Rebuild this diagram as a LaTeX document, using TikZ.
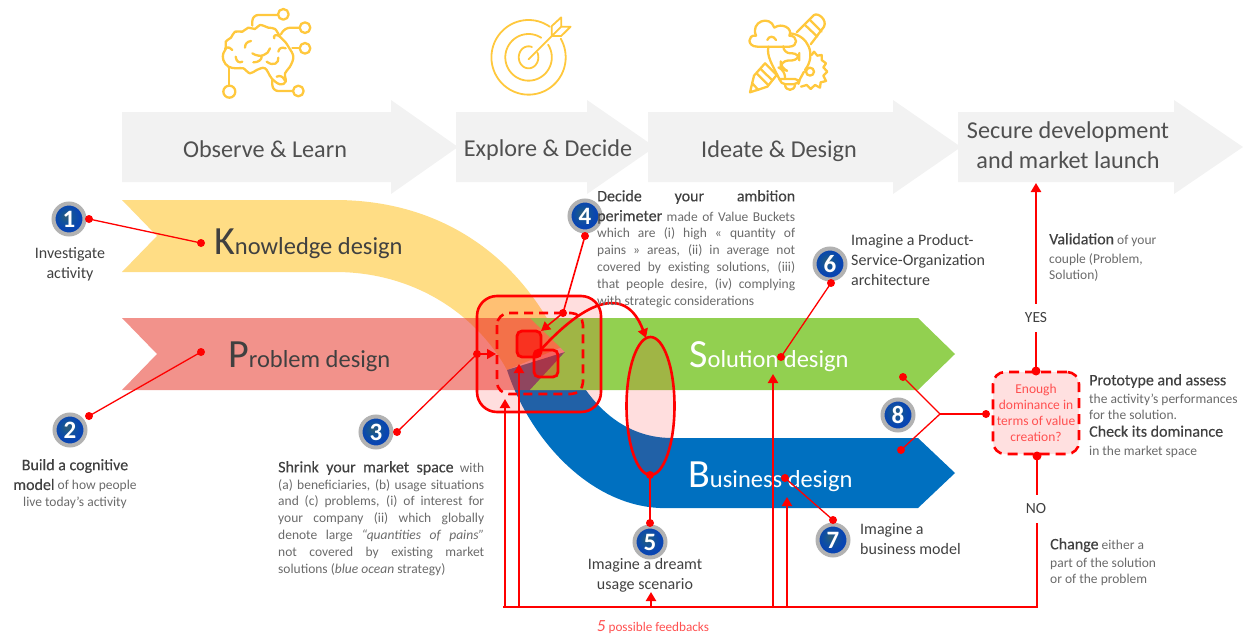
\documentclass[tikz,border=0pt]{standalone}
\usepackage{fontspec}
\setmainfont{Carlito}
\newfontfamily\semib[FakeBold=0.3]{Carlito}
\usetikzlibrary{arrows.meta,calc}
\definecolor{gband}{HTML}{F2F2F2}
\definecolor{ytxt}{HTML}{FFDD85}
\definecolor{rband}{HTML}{E8392C}
\definecolor{sgreen}{HTML}{92D050}
\definecolor{bblue}{HTML}{0070C0}
\definecolor{dtxt}{HTML}{404040}
\definecolor{gtxt}{HTML}{6A6A6A}
\definecolor{hdtxt}{HTML}{505050}
\definecolor{boxred}{HTML}{FF5050}
\definecolor{icony}{HTML}{FFC83D}
\pgfdeclareradialshading{bball}{\pgfpoint{-5bp}{5bp}}{color(0bp)=(rgb:red,0.40;green,0.78;blue,0.98); color(9bp)=(rgb:red,0.10;green,0.45;blue,0.82); color(20bp)=(rgb:red,0.03;green,0.24;blue,0.62); color(50bp)=(rgb:red,0.03;green,0.24;blue,0.62)}
\newcommand{\hd}[1]{{\semib\color{dtxt}\fontsize{16}{17}\selectfont #1}}
\newcommand{\gy}[1]{{\color{gtxt}\fontsize{13.5}{16.8}\selectfont #1}}
\newcommand{\jl}[2]{\makebox[#1][s]{#2}}
\newcommand{\bandlab}[2]{{\fontsize{40}{40}\selectfont #1}{\fontsize{24.5}{26}\selectfont #2}}
\tikzset{
  grayarrow/.style={fill=gband,draw=none},
  headtxt/.style={inner sep=0,text=hdtxt,font=\fontsize{24.2}{29.5}\selectfont,align=center},
  dot/.style={circle,fill=red,inner sep=0,minimum size=8},
  thinl/.style={draw=red,line width=1.3},
  thick1/.style={draw=red,line width=2.6},
  arr/.style={-{Triangle[length=9,width=10]}},
  overlay/.style={fill=red,fill opacity=0.13},
  badge/.style={circle,inner sep=0,minimum size=31,shading=bball,draw=gray!60,line width=4,text=white,font=\bfseries\fontsize{25}{25}\selectfont},
  block/.style={inner sep=0,anchor=north west,align=left,font=\fontsize{13.5}{16.8}\selectfont},
  cblock/.style={inner sep=0,align=center,font=\fontsize{13.5}{16.8}\selectfont},
  plainhd/.style={text=dtxt,font=\fontsize{16}{19.6}\selectfont},
  bandtxt/.style={inner sep=0,anchor=base west},
  ic/.style={draw=icony,line width=2.3,line cap=round,line join=round},
}
\begin{document}
\begin{tikzpicture}[x=1pt,y=-1pt]
\useasboundingbox (0,0) rectangle (1244,637);
% gray arrows
\fill[grayarrow] (122,112)--(391,112)--(391,100)--(458,147)--(391,194)--(391,182)--(122,182)--cycle;
\fill[grayarrow] (456,112)--(587,112)--(587,100)--(655,147)--(587,194)--(587,182)--(456,182)--cycle;
\fill[grayarrow] (648,112)--(893,112)--(893,100)--(961,147)--(893,194)--(893,182)--(648,182)--cycle;
\fill[grayarrow] (958,112)--(1174,112)--(1174,100)--(1243,147)--(1174,194)--(1174,182)--(958,182)--cycle;
\node[headtxt] (h1) at (265,149) {Observe \& Learn};
\node[headtxt] (h2) at (548,150) {Explore \& Decide};
\node[headtxt] (h3) at (779,151) {Ideate \& Design};
\node[headtxt] (h4) at (1068,145) {Secure development\\and market launch};
% bands
\fill[ytxt] (122,200)--(335,200) .. controls (440,200) and (520,255) .. (562,347) -- (507,370) .. controls (480,320) and (420,272) .. (335,272) -- (122,272)--(157,236)--cycle;
\fill[bblue] (507,370)--(565,352) .. controls (585,400) and (620,438) .. (672,438) -- (918,438)--(955,473)--(918,508)--(660,508) .. controls (590,505) and (530,440) .. (507,370) -- cycle;
\fill[rband,fill opacity=.55] (122,318)--(570,318)--(570,390)--(122,390)--(157,354)--cycle;
\fill[sgreen] (530,318)--(918,318)--(955,354)--(918,390)--(530,390)--(565,352)--cycle;
\node[bandtxt,text=dtxt] (kd) at (214,254) {\bandlab{K}{nowledge design}};
\node[bandtxt,text=dtxt] (pd) at (228,367) {\bandlab{P}{roblem design}};
\node[bandtxt,text=white] (sd) at (689,367) {\bandlab{S}{olution design}};
\node[bandtxt,text=white] (bd) at (688,487) {\bandlab{B}{usiness design}};
% overlays
\filldraw[overlay,draw=red,draw opacity=1,line width=2.6,rounded corners=20] (477,296) rectangle (601,412);
\draw[thick1,dashed,dash pattern=on 9pt off 6pt,rounded corners=12] (497,313) rectangle (583,394);
\filldraw[fill=red,fill opacity=.55,draw=red,draw opacity=1,line width=2.8,rounded corners=5] (517,331) rectangle (541,357);
\filldraw[fill=red,fill opacity=.22,draw=red,draw opacity=1,line width=2.8,rounded corners=5] (534,350) rectangle (558,377);
\filldraw[overlay,draw=red,draw opacity=1,line width=2.6] (650.5,406) ellipse [x radius=24,y radius=69];
% decision box
\node[draw=red,fill=red!12,line width=2.6,dashed,dash pattern=on 10pt off 6pt,rounded corners=12,minimum width=86,minimum height=82,inner sep=0,text=boxred,align=center,font=\fontsize{13.5}{16.2}\selectfont] (box) at (1036,413) {Enough\\dominance in\\terms of value\\creation?};
% badges
\node[badge] (b1) at (69,219) {1};
\node[badge] (b2) at (70,430) {2};
\node[badge] (b3) at (376,432) {3};
\node[badge] (b4) at (585,216) {4};
\node[badge] (b5) at (650,542) {5};
\node[badge] (b6) at (830,264) {6};
\node[badge] (b7) at (833,540) {7};
\node[badge] (b8) at (898,415) {8};
% dots
\node[dot] (d1a) at (89,219) {}; \node[dot] (d1b) at (201,243) {};
\node[dot] (d2a) at (89,416) {}; \node[dot] (d2b) at (201,352) {};
\node[dot] (d3a) at (397,432) {}; \node[dot] (d3b) at (477,354) {};
\node[dot] (d4a) at (585,236) {}; \node[dot] (d4b) at (563,313) {};
\node[dot] (dc) at (537,354) {};
\node[dot] (d5a) at (650,475) {}; \node[dot] (d5b) at (650,523) {};
\node[dot] (d6a) at (831,283) {}; \node[dot] (d6b) at (781,357) {};
\node[dot] (d7a) at (833,520) {}; \node[dot] (d7b) at (785,478) {};
\node[dot] (d8a) at (903,377) {}; \node[dot] (d8b) at (901,450) {}; \node[dot] (d8c) at (986,414) {};
\node[dot,minimum size=9] (dt) at (1036,371) {}; \node[dot,minimum size=9] (db) at (1037,456) {};
\coordinate (j8) at (940,414);
\coordinate (ebl) at (503,607); \coordinate (ebr) at (1037,607);
\coordinate (t1) at (505,399); \coordinate (t2) at (519,364); \coordinate (t3) at (651,592); \coordinate (t4) at (773,374); \coordinate (t5) at (787,497);
\coordinate (s1) at (505,607); \coordinate (s2) at (519,607); \coordinate (s3) at (651,607); \coordinate (s4) at (773,607); \coordinate (s5) at (787,607);
\coordinate (up) at (1036,183);
\coordinate (in3) at (496,354); \coordinate (in4) at (541,331); \coordinate (cv) at (646,338);
% connectors
\draw[thinl] (d1a.center)--(d1b.center);
\draw[thinl] (d2a.center)--(d2b.center);
\draw[thinl] (d3a.center)--(d3b.center);
\draw[thinl,arr] (d3b.center)--(in3);
\draw[thinl,line width=1.6] (d4a.center)--(d4b.center);
\draw[thinl,line width=1.6,arr] (d4b.center)--(in4);
\draw[thick1,arr] (dc.center) .. controls (582,303) and (625,282) .. (cv);
\draw[thinl] (d5a.center)--(d5b.center);
\draw[thinl] (d6a.center)--(d6b.center);
\draw[thinl] (d7a.center)--(d7b.center);
\draw[thinl] (d8a.center)--(j8)--(d8b.center);
\draw[thinl] (j8)--(d8c.center);
\draw[thick1] (db.center)--(ebr)--(ebl);
\draw[thick1,arr] (s1)--(t1);
\draw[thick1,arr] (s2)--(t2);
\draw[thick1,arr] (s3)--(t3);
\draw[thick1,arr] (s4)--(t4);
\draw[thick1,arr] (s5)--(t5);
\draw[thick1,arr] (dt.center)--(up);
\node[fill=white,inner sep=2,minimum width=30,minimum height=28,text=dtxt,font=\fontsize{15.5}{16}\selectfont] (yes) at (1036,318) {YES};
\node[fill=white,inner sep=2,minimum width=30,minimum height=28,text=dtxt,font=\fontsize{15.5}{16}\selectfont] (no) at (1036,509) {NO};
% texts
\node[cblock,plainhd] (x1) at (70,264) {Investigate\\activity};
\node[cblock] (x2) at (75,484) {\hd{Build a cognitive}\\[3pt]\hd{model} \gy{of how people}\\\gy{live today's activity}};
\node[block] (x3) at (278,461) {\jl{206pt}{\hd{Shrink your market space} \gy{with}}\\
\gy{\jl{206pt}{(a) beneficiaries, (b) usage situations}}\\
\gy{\jl{206pt}{and (c) problems, (i) of interest for}}\\
\gy{\jl{206pt}{your company (ii) which globally}}\\
\gy{\jl{206pt}{denote large \textit{“quantities of pains”}}}\\
\gy{\jl{206pt}{not covered by existing market}}\\
\gy{solutions (\textit{blue ocean} strategy)}};
\node[block] (x4) at (597,190) {\jl{198pt}{\hd{Decide your ambition}}\\[3pt]
\jl{198pt}{\hd{perimeter} \gy{made of Value Buckets}}\\
\gy{\jl{198pt}{which are (i) high « quantity of}}\\
\gy{\jl{198pt}{pains » areas, (ii) in average not}}\\
\gy{\jl{198pt}{covered by existing solutions, (iii)}}\\
\gy{\jl{198pt}{that people desire, (iv) complying}}\\
\gy{with strategic considerations}};
\node[cblock,plainhd] (x5) at (645,575.5) {Imagine a dreamt\\usage scenario};
\node[block,plainhd] (x6) at (851,234.5) {Imagine a Product-\\Service-Organization\\architecture};
\node[block,plainhd] (x7) at (860,523.5) {Imagine a\\business model};
\node[block] (x8) at (1089,374) {\hd{Prototype and assess}\\[1pt]\gy{the activity's performances}\\\gy{for the solution.}\\\hd{Check its dominance}\\[2pt]\gy{in the market space}};
\node[block] (xv) at (1049,233) {\hd{Validation} \gy{of your}\\[2pt]\gy{couple (Problem,}\\\gy{Solution)}};
\node[block] (xc) at (1050,538) {\hd{Change} \gy{either a}\\[1pt]\gy{part of the solution}\\\gy{or of the problem}};
\node[inner sep=0,text=boxred,font=\fontsize{13.2}{15}\selectfont] (fb) at (653,627) {{\fontsize{17}{17}\selectfont\textit{5}} possible feedbacks};
% brain icon
\begin{scope}[shift={(215,5)},scale=1/3]
\draw[ic] (205,28) circle (16) (270,68) circle (16) (270,130) circle (16) (250,258) circle (16) (43,260) circle (18);
\draw[ic,rounded corners=6] (189,30)--(112,30)--(112,62);
\draw[ic,rounded corners=6] (254,68)--(208,68)--(198,88);
\draw[ic] (254,130)--(232,130);
\draw[ic,rounded corners=6] (234,258)--(172,258)--(172,225);
\draw[ic] (43,242)--(43,188);
\draw[ic] plot[smooth cycle,tension=.65] coordinates {(40,185)(25,165)(25,145)(33,130)(32,110)(48,98)(60,80)(82,80)(100,68)(120,72)(135,60)(160,68)(180,72)(195,95)(210,110)(222,128)(235,155)(225,185)(210,205)(212,230)(195,238)(170,220)(150,190)(125,195)(105,205)(85,190)(65,190)};
\draw[ic] (108,108) .. controls (95,110) and (90,118) .. (90,128);
\draw[ic] (165,130) .. controls (160,150) and (135,160) .. (112,145);
\draw[ic] (115,172) .. controls (130,172) and (140,165) .. (140,155);
\draw[ic] (62,155) .. controls (64,170) and (72,175) .. (82,170);
\draw[ic] (190,158) .. controls (192,175) and (175,185) .. (155,170);
\draw[ic] (30,130) .. controls (40,125) and (48,128) .. (52,135);
\draw[ic] (178,100) .. controls (172,92) and (185,85) .. (195,95);
\draw[ic] (212,130) .. controls (200,125) and (192,130) .. (190,140);
\draw[ic] (185,215) .. controls (195,210) and (205,215) .. (208,225);
\end{scope}
% target icon
\begin{scope}[shift={(200,0)},xscale=1/2.45,yscale=1/3]
\draw[ic,smooth,line width=1.8] plot[domain=30:-305,samples=70] ({805+91*cos(\x)},{172-112*sin(\x)});
\draw[ic,smooth,line width=1.8] plot[domain=33:-303,samples=60] ({805+57*cos(\x)},{172-70*sin(\x)});
\draw[ic,smooth,line width=1.8] plot[domain=25:-290,samples=40] ({805+24*cos(\x)},{172-33*sin(\x)});
\draw[ic,line width=1.8] (805,178)--(862,108);
\draw[ic,line width=1.8] (862,108)--(862,78)--(885,52)--(885,80)--(908,80)--(885,108)--cycle (862,108)--(885,80);
\end{scope}
% ideate icon
\begin{scope}[shift={(740,5)},scale=1/3]
\draw[ic] (52,125) .. controls (20,125) and (22,88) .. (48,92) .. controls (30,50) and (90,28) .. (103,68) .. controls (125,52) and (160,70) .. (148,92) .. controls (175,92) and (175,125) .. (148,125) -- cycle;
\draw[ic] (82,105) .. controls (86,92) and (102,92) .. (108,105);
\draw[ic] (170,82)--(222,30) .. controls (235,22) and (262,45) .. (252,65) -- (212,118);
\draw[ic] (195,60)--(232,95) (210,45)--(245,80);
\draw[ic] (150,85) .. controls (205,90) and (230,150) .. (195,195);
\draw[ic] (85,125) .. controls (80,155) and (95,175) .. (118,222);
\draw[ic] (180,222)--(192,200);
\draw[ic,rounded corners=5] (118,222)--(180,222)--(175,238)--(122,238)--(118,222);
\draw[ic] (135,238) .. controls (135,260) and (165,260) .. (165,238);
\draw[ic,rounded corners=7] (130,125)--(130,145)--(178,145)--(178,165)--(122,168)--(122,190)--(135,195)--(135,222);
\draw[ic] (210,200) circle (12);
\draw[ic] (215,150)--(222,140)--(232,152)--(245,150)--(245,165)--(258,175)--(250,187)--(262,200)--(250,212)--(258,228)--(242,232)--(240,248)--(225,240)--(212,252)--(200,240)--(183,245);
\draw[ic] (75,175)--(110,210)--(82,245)--(30,262)--(42,212)--cycle;
\draw[ic] (62,192)--(96,225) (50,205)--(85,240);
\draw[ic] (37,235)--(55,255);
\end{scope}
\end{tikzpicture}
\end{document}
